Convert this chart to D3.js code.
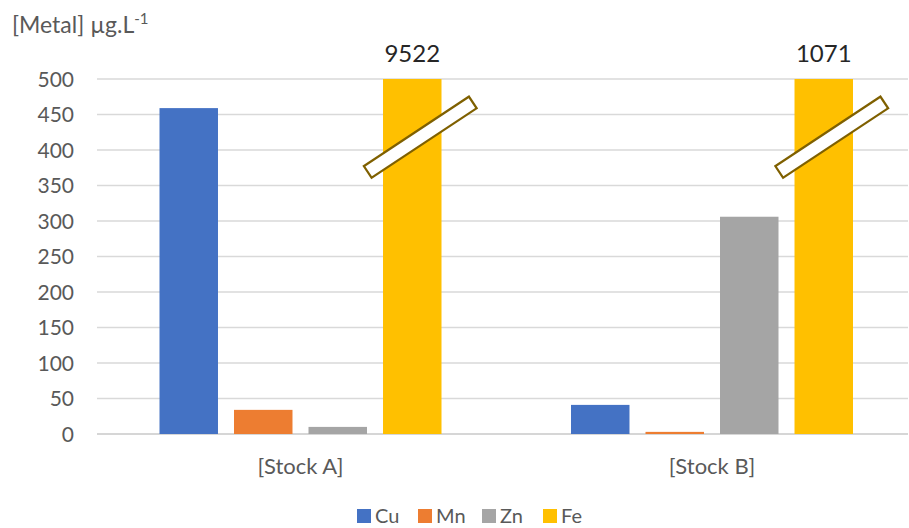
<!DOCTYPE html>
<html>
<head>
<meta charset="utf-8">
<script src="https://cdn.jsdelivr.net/npm/d3@7"></script>
<style>
  body { margin: 0; background: #fff; }
  svg { display: block; font-family: "Lato", "Open Sans", sans-serif; }
</style>
</head>
<body>
<svg id="chart" width="909" height="528"></svg>
<script>
// Metal concentrations (µg/L) in two stock solutions
const categories = ["[Stock A]", "[Stock B]"];
const metals = ["Cu", "Mn", "Zn", "Fe"];
const colors = ["#4472c4", "#ed7d31", "#a5a5a5", "#ffc000"];
const cuValues = [459, 41];
const mnValues = [34, 3];
const znValues = [10, 306];
const feValues = [9522, 1071];
const yTicks = [0, 50, 100, 150, 200, 250, 300, 350, 400, 450, 500];
const axisMax = 500;

const series = [cuValues, mnValues, znValues, feValues];

const svg = d3.select("#chart");
const plot = { left: 97, right: 908, top: 79, bottom: 434 };

const y = d3.scaleLinear().domain([0, axisMax]).range([plot.bottom, plot.top]);
const x0 = d3.scaleBand().domain(categories).range([94.75, 917.75]);
const x1 = d3.scaleBand().domain(metals).range([-141, 141]).paddingInner(0.215);

// gridlines
svg.append("g")
  .selectAll("line")
  .data(yTicks)
  .join("line")
  .attr("x1", plot.left).attr("x2", plot.right)
  .attr("y1", d => y(d)).attr("y2", d => y(d))
  .attr("stroke", d => d === 0 ? "#c8c8c8" : "#d9d9d9")
  .attr("stroke-width", 1.5);

// y tick labels
svg.append("g")
  .selectAll("text")
  .data(yTicks)
  .join("text")
  .attr("x", 74).attr("y", d => y(d))
  .attr("dy", "0.36em")
  .attr("text-anchor", "end")
  .attr("font-size", 21)
  .attr("fill", "#595959")
  .text(d => d);

// axis title
const title = svg.append("text")
  .attr("x", 12).attr("y", 33)
  .attr("font-size", 23)
  .attr("fill", "#595959");
title.append("tspan").text("[Metal] µg.L");
title.append("tspan").attr("dy", -9).attr("font-size", 15).text("-1");

// bars (values above the axis maximum are cut at the top)
const bars = [];
categories.forEach((c, ci) => {
  metals.forEach((m, mi) => {
    bars.push({ cat: c, metal: m, value: series[mi][ci], color: colors[mi] });
  });
});

svg.append("g")
  .selectAll("rect")
  .data(bars)
  .join("rect")
  .attr("x", d => x0(d.cat) + x0.bandwidth() / 2 + x1(d.metal))
  .attr("width", x1.bandwidth())
  .attr("y", d => y(Math.min(d.value, axisMax)))
  .attr("height", d => y(0) - y(Math.min(d.value, axisMax)))
  .attr("fill", d => d.color);

// break marks and value labels on the truncated bars
const broken = bars.filter(d => d.value > axisMax);
const breakAt = 418;

svg.append("g")
  .selectAll("rect")
  .data(broken)
  .join("rect")
  .attr("transform", d => {
    const cx = x0(d.cat) + x0.bandwidth() / 2 + x1(d.metal) + x1.bandwidth() / 2 + 8;
    return `translate(${cx},${y(breakAt)}) rotate(-33.5)`;
  })
  .attr("x", -63).attr("y", -7)
  .attr("width", 126).attr("height", 14)
  .attr("fill", "#fff")
  .attr("stroke", "#7f6000")
  .attr("stroke-width", 2.2);

svg.append("g")
  .selectAll("text")
  .data(broken)
  .join("text")
  .attr("x", d => x0(d.cat) + x0.bandwidth() / 2 + x1(d.metal) + x1.bandwidth() / 2)
  .attr("y", 62)
  .attr("text-anchor", "middle")
  .attr("font-size", 24)
  .attr("fill", "#262626")
  .text(d => d.value);

// category labels
svg.append("g")
  .selectAll("text")
  .data(categories)
  .join("text")
  .attr("x", d => x0(d) + x0.bandwidth() / 2)
  .attr("y", 474)
  .attr("text-anchor", "middle")
  .attr("font-size", 22)
  .attr("fill", "#595959")
  .text(d => d);

// legend
const legendX = [357, 418, 482, 543];
const legend = svg.append("g")
  .selectAll("g")
  .data(metals)
  .join("g")
  .attr("transform", (d, i) => `translate(${legendX[i]},509)`);
legend.append("rect")
  .attr("width", 14).attr("height", 14)
  .attr("fill", (d, i) => colors[i]);
legend.append("text")
  .attr("x", 18).attr("y", 7)
  .attr("dy", "0.36em")
  .attr("font-size", 20)
  .attr("fill", "#595959")
  .text(d => d);
</script>
</body>
</html>
